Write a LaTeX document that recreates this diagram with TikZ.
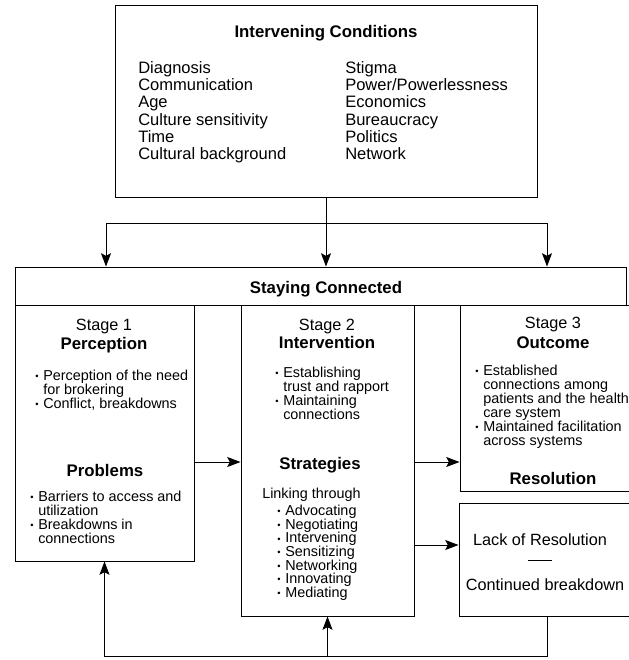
\documentclass[tikz,border=0pt]{standalone}
\usepackage{fontspec}
\setmainfont{Liberation Sans}
\usetikzlibrary{arrows.meta,fit}
\newcommand\bu{\makebox[6pt][l]{\raisebox{0.6pt}{\fontsize{7}{7}\selectfont\textbullet}}}
\newcommand\bi{\hspace*{6pt}}
\begin{document}
\begin{tikzpicture}[x=0.75pt,y=-0.75pt,
  box/.style={draw, line width=0.7pt, inner sep=0pt},
  hd/.style={font=\fontsize{12.6}{13}\selectfont\bfseries, inner sep=0pt, text height=9pt, text depth=0pt},
  rg/.style={font=\fontsize{12.2}{13}\selectfont, inner sep=0pt, text height=8.8pt, text depth=0pt},
  lst/.style={font=\fontsize{12.4}{13}\selectfont, inner sep=0pt, align=left, anchor=north west},
  bl/.style={font=\fontsize{10.8}{10.5}\selectfont, inner sep=0pt, align=left, anchor=north west},
  ln/.style={line width=0.7pt},
  arr/.style={ln, -{Stealth[length=10pt,width=7.5pt,inset=2pt]}}]
\useasboundingbox (0,0) rectangle (628,660);
% top box
\node[box, fit={(115,5) (537,197)}] (top) {};
\node[hd] (ttl) at (326,32) {Intervening Conditions};
\node[lst] (lc) at (138,61) {Diagnosis\\Communication\\Age\\Culture sensitivity\\Time\\Cultural background};
\node[lst] (rc) at (345,61) {Stigma\\Power/Powerlessness\\Economics\\Bureaucracy\\Politics\\Network};
% staying connected
\node[box, fit={(15,267) (626,305)}] (sc) {};
\node[hd] (sct) at (326,287) {Staying Connected};
% stage boxes
\node[box, fit={(15,305) (194,561)}] (s1) {};
\node[box, fit={(241,305) (414,616)}] (s2) {};
\node[box, fit={(460,305) (640,491)}] (s3) {};
\node[box, fit={(459,503) (640,616)}] (lk) {};
% stage 1
\node[rg] (s1a) at (104,325) {Stage 1};
\node[hd] (s1b) at (104,343) {Perception};
\node[bl] (s1c) at (35,370) {\bu Perception of the need\\\bi for brokering\\\bu Conflict, breakdowns};
\node[hd] (s1d) at (105,470) {Problems};
\node[bl] (s1e) at (30,491) {\bu Barriers to access and\\\bi utilization\\\bu Breakdowns in\\\bi connections};
% stage 2
\node[rg] (s2a) at (327,325) {Stage 2};
\node[hd] (s2b) at (327,342) {Intervention};
\node[bl] (s2c) at (275,367) {\bu Establishing\\\bi trust and rapport\\\bu Maintaining\\\bi connections};
\node[hd] (s2d) at (320,463) {Strategies};
\node[bl] (s2e) at (262,488) {Linking through};
\node[bl, font=\fontsize{10.8}{10.2}\selectfont] (s2f) at (277,505) {\bu Advocating\\\bu Negotiating\\\bu Intervening\\\bu Sensitizing\\\bu Networking\\\bu Innovating\\\bu Mediating};
% stage 3
\node[rg] (s3a) at (553,323) {Stage 3};
\node[hd] (s3b) at (553,342) {Outcome};
\node[bl] (s3c) at (475,365) {\bu Established\\\bi connections among\\\bi patients and the health\\\bi care system\\\bu Maintained facilitation\\\bi across systems};
\node[hd] (s3d) at (553,478) {Resolution};
% lack of resolution
\node[rg] (lka) at (540,540) {Lack of Resolution};
\node[inner sep=0pt] (lkb) at (540,560) {\rule{18pt}{0.5pt}};
\node[rg] (lkc) at (545,585) {Continued breakdown};
% connectors
\coordinate (hl) at (106,223);
\coordinate (hr) at (547,223);
\draw[arr] (top.south) -- (top.south |- sc.north);
\draw[ln] (hl) -- (hr);
\draw[arr] (hl) -- (hl |- sc.north);
\draw[arr] (hr) -- (hr |- sc.north);
\coordinate (ya) at (0,462);
\coordinate (yb) at (0,545);
\draw[arr] (s1.east |- ya) -- (s2.west |- ya);
\draw[arr] (s2.east |- ya) -- (s3.west |- ya);
\draw[arr] (s2.east |- yb) -- (lk.west |- yb);
\coordinate (fb) at (547,656);
\draw[arr] (lk.south -| fb) -- (fb) -| (s1.south);
\draw[arr] (s2.south |- fb) -- (s2.south);
\end{tikzpicture}
\end{document}
